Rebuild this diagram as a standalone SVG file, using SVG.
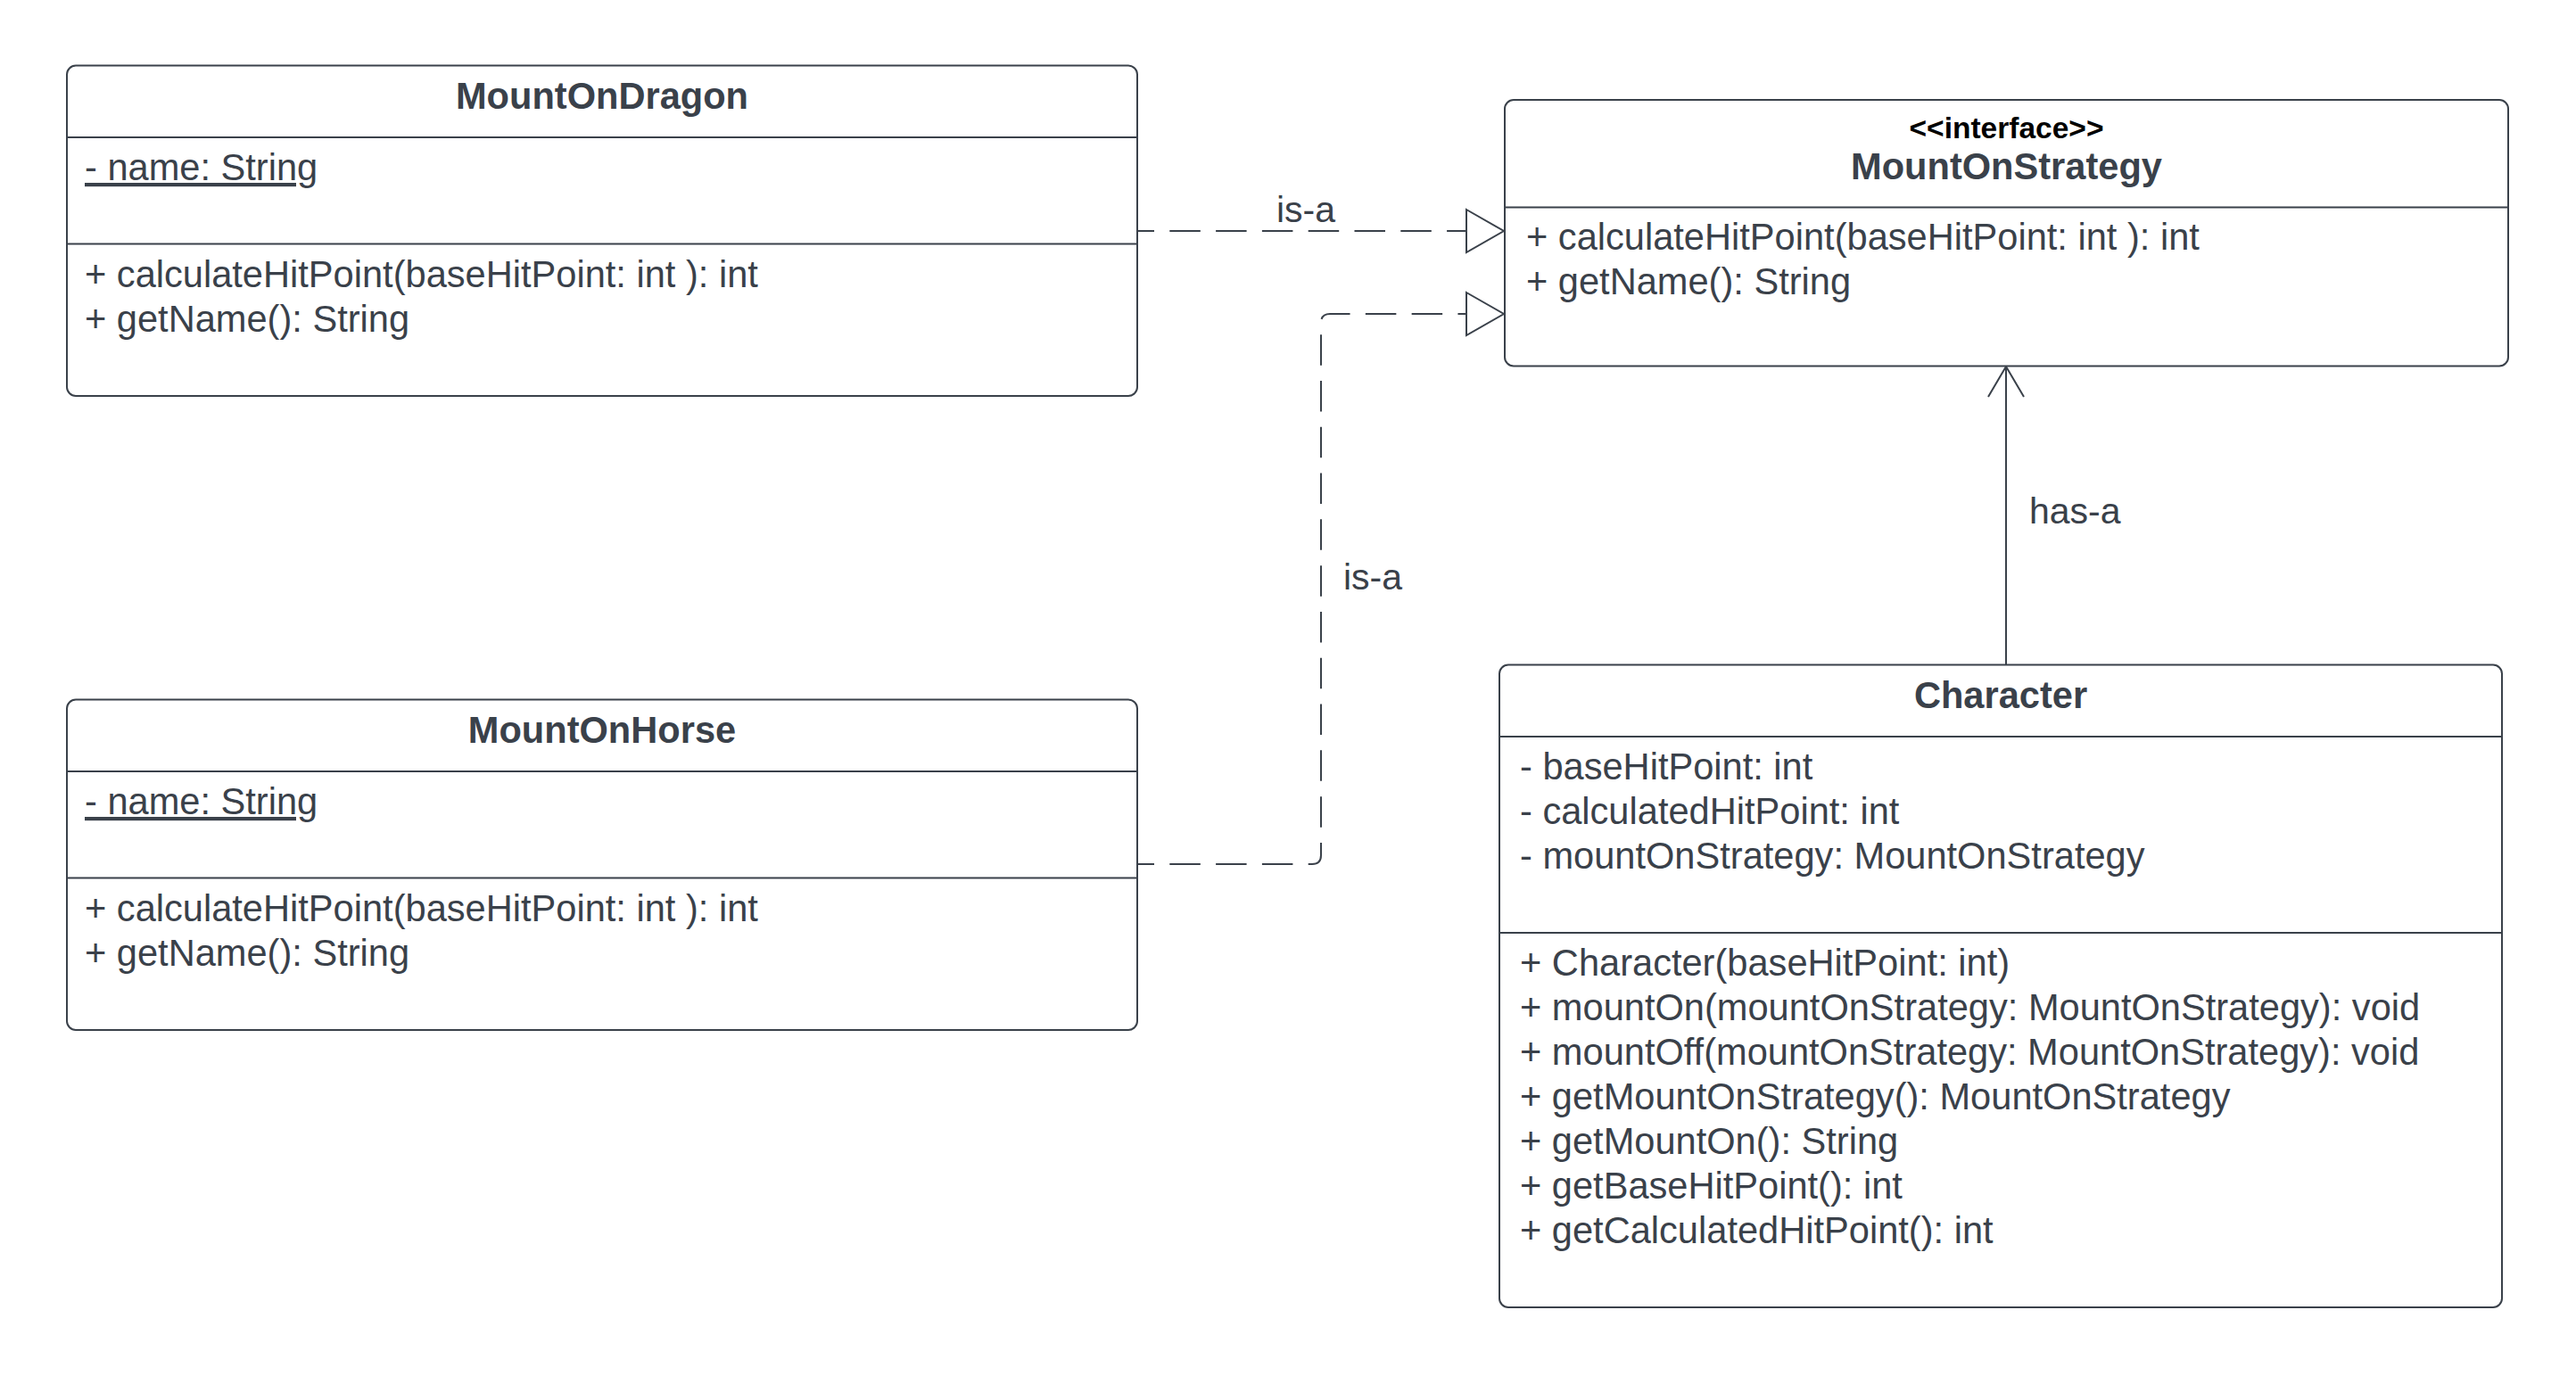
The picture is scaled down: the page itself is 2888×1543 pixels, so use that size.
<svg xmlns="http://www.w3.org/2000/svg" width="2888" height="1543" viewBox="0 0 2888 1543">
  <style>
    .box { fill: #ffffff; stroke: #3a414a; stroke-width: 2; }
    .div { stroke: #3a414a; stroke-width: 2; }
    .t { font-family: "Liberation Sans", Arial, sans-serif; font-size: 41.6px; fill: #3a414a; }
    .lbl { font-family: "Liberation Sans", Arial, sans-serif; font-size: 41px; fill: #3a414a; }
    .title { font-weight: bold; text-anchor: middle; }
    .stereo { font-family: "Liberation Sans", Arial, sans-serif; font-size: 33.5px; font-weight: bold; fill: #000000; text-anchor: middle; }
    .static { text-decoration: underline; }
    .dash { fill: none; stroke: #3a414a; stroke-width: 2; stroke-dasharray: 34.5 17.3; stroke-dashoffset: 16.5; }
    .solid { fill: none; stroke: #3a414a; stroke-width: 2; }
  </style>
  <defs>
    <!-- hollow triangle: realization -->
    <marker id="realize" markerUnits="userSpaceOnUse" markerWidth="50" markerHeight="54" refX="0" refY="0" orient="auto" overflow="visible">
      <path d="M-42,-24 L0,0 L-42,24 Z" fill="#ffffff" stroke="#3a414a" stroke-width="2" stroke-linejoin="miter"/>
    </marker>
    <!-- open arrow: association -->
    <marker id="assoc" markerUnits="userSpaceOnUse" markerWidth="40" markerHeight="44" refX="0" refY="0" orient="auto" overflow="visible">
      <path d="M-34,-20 L0,0 L-34,20" fill="none" stroke="#3a414a" stroke-width="2"/>
    </marker>
  </defs>

  <rect width="2888" height="1543" fill="#ffffff"/>

  <!-- connectors -->
  <g id="connectors">
    <path class="dash" d="M1276,259 H1686" marker-end="url(#realize)"/>
    <path class="dash" d="M1276,969 H1471 Q1481,969 1481,959 V362 Q1481,352 1491,352 H1686" marker-end="url(#realize)"/>
    <path class="solid" d="M2249,745 V411" marker-end="url(#assoc)"/>
    <text class="lbl" x="1431" y="249">is-a</text>
    <text class="lbl" x="1506" y="661">is-a</text>
    <text class="lbl" x="2275" y="587">has-a</text>
  </g>

  <!-- MountOnDragon -->
  <g id="MountOnDragon">
    <rect class="box" x="75" y="73.5" width="1200" height="370.5" rx="10"/>
    <line class="div" x1="75" y1="154" x2="1275" y2="154"/>
    <line class="div" x1="75" y1="273.5" x2="1275" y2="273.5"/>
    <text class="t title" x="675" y="122">MountOnDragon</text>
    <text class="t static" x="95" y="202">- name: String</text>
    <text class="t" x="95" y="322">+ calculateHitPoint(baseHitPoint: int ): int</text>
    <text class="t" x="95" y="372">+ getName(): String</text>
  </g>

  <!-- MountOnHorse -->
  <g id="MountOnHorse">
    <rect class="box" x="75" y="784.5" width="1200" height="370.5" rx="10"/>
    <line class="div" x1="75" y1="865" x2="1275" y2="865"/>
    <line class="div" x1="75" y1="984.5" x2="1275" y2="984.5"/>
    <text class="t title" x="675" y="833">MountOnHorse</text>
    <text class="t static" x="95" y="913">- name: String</text>
    <text class="t" x="95" y="1033">+ calculateHitPoint(baseHitPoint: int ): int</text>
    <text class="t" x="95" y="1083">+ getName(): String</text>
  </g>

  <!-- MountOnStrategy (interface) -->
  <g id="MountOnStrategy">
    <rect class="box" x="1687" y="112" width="1125" height="298.5" rx="10"/>
    <line class="div" x1="1687" y1="232.5" x2="2812" y2="232.5"/>
    <text class="stereo" x="2249.5" y="155">&lt;&lt;interface&gt;&gt;</text>
    <text class="t title" x="2249.5" y="201">MountOnStrategy</text>
    <text class="t" x="1711" y="280">+ calculateHitPoint(baseHitPoint: int ): int</text>
    <text class="t" x="1711" y="330">+ getName(): String</text>
  </g>

  <!-- Character -->
  <g id="Character">
    <rect class="box" x="1681" y="745.5" width="1124" height="720.5" rx="10"/>
    <line class="div" x1="1681" y1="826" x2="2805" y2="826"/>
    <line class="div" x1="1681" y1="1046" x2="2805" y2="1046"/>
    <text class="t title" x="2243" y="794">Character</text>
    <text class="t" x="1704" y="874">- baseHitPoint: int</text>
    <text class="t" x="1704" y="924">- calculatedHitPoint: int</text>
    <text class="t" x="1704" y="974">- mountOnStrategy: MountOnStrategy</text>
    <text class="t" x="1704" y="1094">+ Character(baseHitPoint: int)</text>
    <text class="t" x="1704" y="1144">+ mountOn(mountOnStrategy: MountOnStrategy): void</text>
    <text class="t" x="1704" y="1194">+ mountOff(mountOnStrategy: MountOnStrategy): void</text>
    <text class="t" x="1704" y="1244">+ getMountOnStrategy(): MountOnStrategy</text>
    <text class="t" x="1704" y="1294">+ getMountOn(): String</text>
    <text class="t" x="1704" y="1344">+ getBaseHitPoint(): int</text>
    <text class="t" x="1704" y="1394">+ getCalculatedHitPoint(): int</text>
  </g>
</svg>
